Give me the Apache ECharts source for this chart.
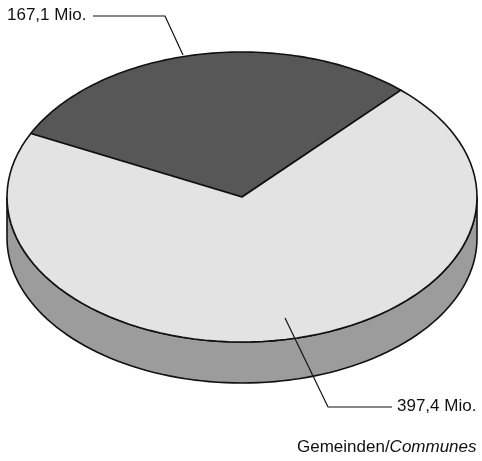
<!DOCTYPE html>
<html>
<head>
<meta charset="utf-8">
<script src="https://cdn.jsdelivr.net/npm/echarts@6/dist/echarts.min.js"></script>
<style>
  html, body { margin: 0; padding: 0; background: #fff; }
  #chart { width: 482px; height: 461px; }
</style>
</head>
<body>
<div id="chart"></div>
<script>
var categories = ['Andere', 'Gemeinden'];
var values = [167.1, 397.4];
var sliceColors = ['#575757', '#e3e3e3'];
var wallColor = '#9c9c9c';
var unit = ' Mio.';

// ellipse geometry of the tilted pie
var cx = 242, cy = 197, rx = 235, ry = 145, depth = 41;
var startAngle = 154;

var total = values.reduce(function (a, b) { return a + b; }, 0);
var font = '17px "Liberation Sans", Arial, sans-serif';

function pt(a, dy) {
  var r = a * Math.PI / 180;
  return [cx + rx * Math.cos(r), cy - ry * Math.sin(r) + (dy || 0)];
}

function arc(a0, a1, dy) {
  var pts = [], n = 90;
  for (var i = 0; i <= n; i++) pts.push(pt(a0 + (a1 - a0) * i / n, dy));
  return pts;
}

function fmt(v) { return v.toFixed(1).replace('.', ',') + unit; }

var chart = echarts.init(document.getElementById('chart'), null, { renderer: 'canvas' });

chart.setOption({
  animation: false,
  series: [{
    type: 'custom',
    coordinateSystem: 'none',
    z: 2,
    data: values.map(function (v, i) { return { name: categories[i], value: v }; }),
    renderItem: function (params, api) {
      var idx = params.dataIndex;
      var before = 0;
      for (var k = 0; k < idx; k++) before += values[k];
      // slices run clockwise from startAngle
      var a0 = startAngle - before / total * 360;
      var a1 = a0 - values[idx] / total * 360;
      var children = [];
      // visible wall: part of the slice in the front half
      for (var off = 0; off >= -720; off -= 360) {
        var lo = Math.max(a1, -180 + off), hi = Math.min(a0, off);
        if (hi > lo) {
          children.push({
            type: 'polygon',
            shape: { points: arc(hi, lo, 0).concat(arc(lo, hi, depth)) },
            style: { fill: wallColor, stroke: '#111', lineWidth: 1.6, lineJoin: 'round' }
          });
        }
      }
      children.push({
        type: 'polygon',
        shape: { points: [[cx, cy]].concat(arc(a0, a1, 0)) },
        style: { fill: sliceColors[idx], stroke: '#111', lineWidth: 1.6, lineJoin: 'round' }
      });
      return { type: 'group', children: children };
    }
  }],
  graphic: [
    {
      type: 'polyline', silent: true, z: 100,
      shape: { points: [[93, 16], [165, 16], [183, 55]] },
      style: { stroke: '#111', lineWidth: 1.2, fill: null }
    },
    {
      type: 'text', left: 7, top: 7, z: 100,
      style: { text: fmt(values[0]), font: font, fill: '#111' }
    },
    {
      type: 'polyline', silent: true, z: 100,
      shape: { points: [[285, 318], [328, 407], [392, 407]] },
      style: { stroke: '#111', lineWidth: 1.2, fill: null }
    },
    {
      type: 'text', left: 397, top: 398, z: 100,
      style: { text: fmt(values[1]), font: font, fill: '#111' }
    },
    {
      type: 'text', left: 297, top: 439, z: 100,
      style: {
        text: '{n|' + categories[1] + '/}{i|Communes}',
        font: font, fill: '#111',
        rich: {
          n: { font: font, fill: '#111' },
          i: { font: 'italic ' + font, fill: '#111' }
        }
      }
    }
  ]
});
</script>
</body>
</html>
